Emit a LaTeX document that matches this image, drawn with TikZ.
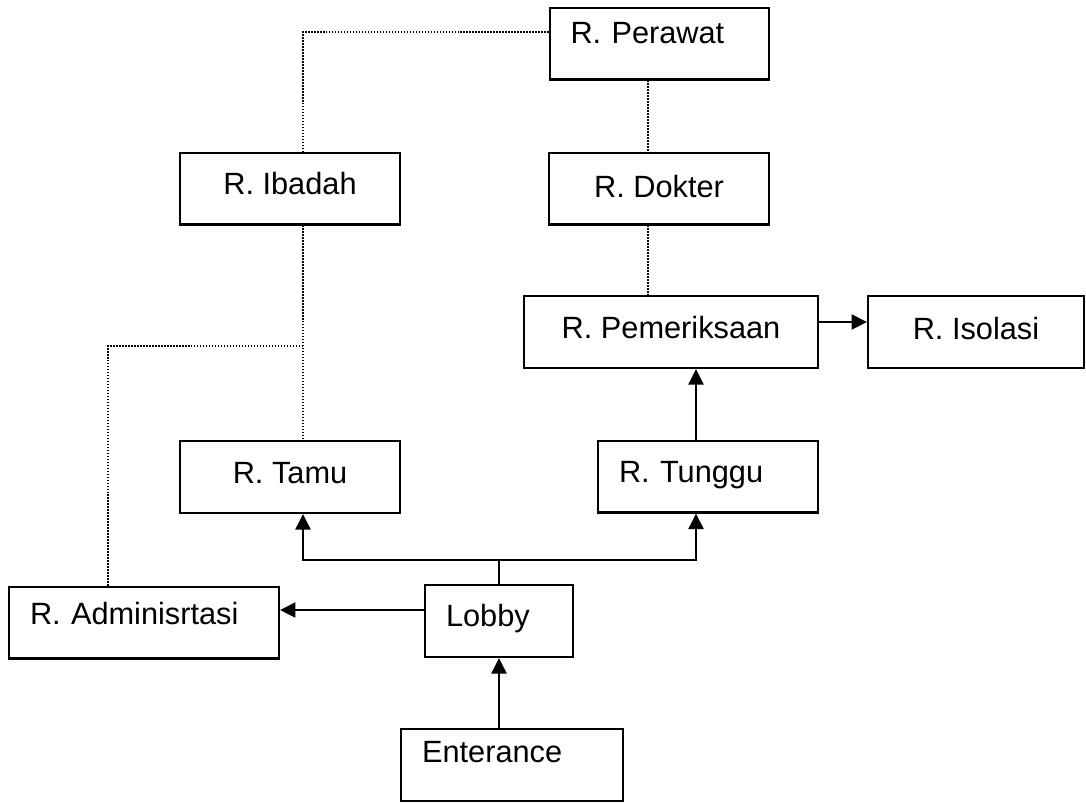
\documentclass[tikz,border=0pt]{standalone}
\usepackage{fontspec}
\setsansfont{Liberation Sans}
\usetikzlibrary{arrows.meta,positioning,calc}

\begin{document}
\begin{tikzpicture}[
  x=0.02cm, y=-0.02cm,
  font=\fontsize{17.5}{21}\selectfont\sffamily,
  room/.style={draw=black, line width=1.15pt, fill=white, minimum height=1.44cm,
               inner ysep=0pt, text height=0.44cm, text depth=0.24cm},
  roomleft/.style={room, align=left, inner xsep=0.42cm},
  flow/.style={-{Triangle[length=3.1mm, width=3mm]}, line width=1.15pt},
  link/.style={dash pattern=on 0.8pt off 0.9pt, line width=0.7pt},
]
\useasboundingbox (0,0) rectangle (1086,802);

% ---------- rooms ----------
\node[roomleft, text width=3.56cm, text depth=0.46cm] (perawat) at (659.5,43.5) {R. Perawat};
\node[room, minimum width=4.4cm, text depth=0.22cm] (ibadah) at (290,188.5) {R. Ibadah};
\node[room, minimum width=4.4cm, text depth=0.1cm] (dokter) at (659,188.5) {R. Dokter};
\node[room, minimum width=5.88cm, text depth=0.2cm] (periksa) at (671,332) {R. Pemeriksaan};
\node[room, minimum width=4.32cm, text depth=0.16cm] (isolasi) at (976,332) {R. Isolasi};
\node[room, minimum width=4.4cm, text depth=0.2cm] (tamu) at (290,477) {R. Tamu};
\node[roomleft, text width=3.56cm, text depth=0.22cm] (tunggu) at (708,476.5) {R. Tunggu};
\node[roomleft, text width=4.56cm, text depth=0.36cm] (admin) at (144,622.5) {R. Adminisrtasi};
\node[roomleft, text width=2.12cm, text depth=0.24cm] (lobby) at (499,621) {Lobby};
\node[roomleft, text width=3.6cm, text depth=0.56cm] (enter) at (512,765) {Enterance};

% ---------- dotted links ----------
\coordinate (split) at (303,346);
\draw[link] ([yshift=0.23cm]perawat.west) -| ([xshift=0.26cm]ibadah.north);
\draw[link] ([xshift=-0.23cm]perawat.south) -- ([xshift=-0.23cm]perawat.south |- dokter.north);
\draw[link] ([xshift=-0.22cm]dokter.south) -- ([xshift=-0.22cm]dokter.south |- periksa.north);
\draw[link] ([xshift=0.26cm]ibadah.south) -- ([xshift=0.26cm]tamu.north);
\draw[link] (split) -| ([xshift=-0.72cm]admin.north);

% ---------- circulation ----------
\coordinate (fork) at ([yshift=0.48cm]lobby.north);
\draw[flow] (enter.north -| lobby.south) -- (lobby.south);
\draw[flow] ([yshift=0.22cm]lobby.west) -- ([yshift=0.22cm]lobby.west -| admin.east);
\draw[line width=1.15pt] (lobby.north) -- (fork);
\draw[flow] (fork) -| ([xshift=0.26cm]tamu.south);
\draw[flow] (fork) -| ([xshift=-0.24cm]tunggu.south);
\draw[flow] ([xshift=-0.24cm]tunggu.north) -- ([xshift=-0.24cm]tunggu.north |- periksa.south);
\draw[flow] ([yshift=0.2cm]periksa.east) -- ([yshift=0.2cm]periksa.east -| isolasi.west);

\end{tikzpicture}
\end{document}
